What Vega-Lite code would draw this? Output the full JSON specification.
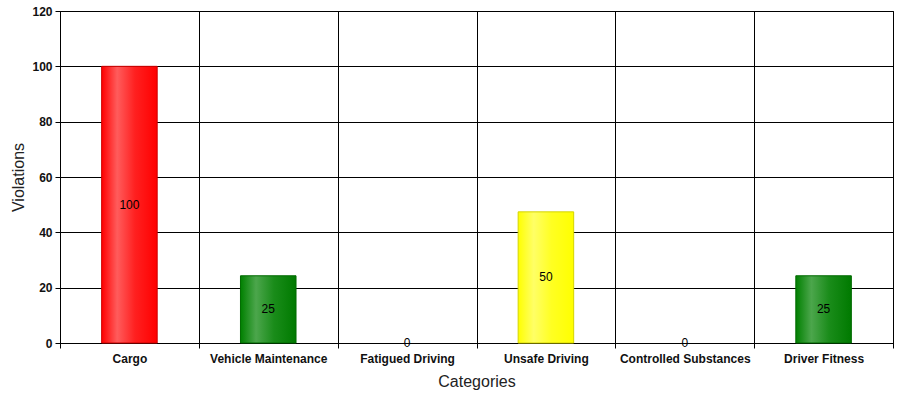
{
  "$schema": "https://vega.github.io/schema/vega-lite/v6.json",
  "width": 833,
  "height": 332,
  "autosize": {"type": "none"},
  "padding": {"left": 60, "top": 11, "right": 12, "bottom": 55},
  "background": "white",
  "config": {
    "font": "Liberation Sans",
    "view": {"stroke": "#000", "strokeWidth": 1},
    "axis": {"domainColor": "#000", "tickColor": "#000", "gridColor": "#000", "gridOpacity": 1, "gridWidth": 1, "labelColor": "#111", "titleColor": "#222", "labelFont": "Liberation Sans", "titleFont": "Liberation Sans"}
  },
  "data": {
    "values": [
      {"category": "Cargo", "value": 100, "label": "100"},
      {"category": "Vehicle Maintenance", "value": 24.3, "label": "25"},
      {"category": "Fatigued Driving", "value": 0, "label": "0"},
      {"category": "Unsafe Driving", "value": 47.4, "label": "50"},
      {"category": "Controlled Substances", "value": 0, "label": "0"},
      {"category": "Driver Fitness", "value": 24.3, "label": "25"}
    ]
  },
  "encoding": {
    "x": {
      "field": "category",
      "type": "nominal",
      "sort": null,
      "scale": {"domain": ["Cargo", "Vehicle Maintenance", "Fatigued Driving", "Unsafe Driving", "Controlled Substances", "Driver Fitness"], "paddingInner": 0, "paddingOuter": 0},
      "axis": {"title": "Categories", "titleFontSize": 16, "titleFontWeight": "normal", "titlePadding": 9, "labelAngle": 0, "labelFontSize": 12, "labelFontWeight": "bold", "labelPadding": 5, "tickBand": "extent", "grid": true, "tickSize": 5}
    }
  },
  "layer": [
    {
      "transform": [{"filter": "datum.category === 'Cargo'"}],
      "mark": {"type": "bar", "width": {"band": 0.4}, "stroke": "#cc0000", "strokeWidth": 1, "color": {"gradient": "linear", "x1": 0, "x2": 1, "y1": 0, "y2": 0, "stops": [{"offset": 0, "color": "#ff0000"}, {"offset": 0.28, "color": "#ff5c5c"}, {"offset": 0.6, "color": "#ff2020"}, {"offset": 1, "color": "#ff0000"}]}},
      "encoding": {
        "y": {"field": "value", "type": "quantitative", "scale": {"domain": [0, 120], "nice": false}, "axis": {"title": "Violations", "titleFontSize": 16, "titleFontWeight": "normal", "titlePadding": 5, "labelFontSize": 12, "labelFontWeight": "bold", "labelPadding": 3, "values": [0,5,10,15,20,25,30,35,40,45,50,55,60,65,70,75,80,85,90,95,100,105,110,115,120], "labelExpr": "datum.value % 20 === 0 ? datum.label : ''", "labelOverlap": false, "grid": true, "gridOpacity": {"condition": {"test": "datum.value % 20 === 0", "value": 1}, "value": 0}, "tickSize": {"condition": {"test": "datum.value % 20 === 0", "value": 5}, "value": 3}}}
      }
    },
    {
      "transform": [{"filter": "datum.category === 'Vehicle Maintenance' || datum.category === 'Driver Fitness'"}],
      "mark": {"type": "bar", "width": {"band": 0.4}, "stroke": "#006a00", "strokeWidth": 1, "color": {"gradient": "linear", "x1": 0, "x2": 1, "y1": 0, "y2": 0, "stops": [{"offset": 0, "color": "#008000"}, {"offset": 0.28, "color": "#4ca64c"}, {"offset": 0.6, "color": "#1a8c1a"}, {"offset": 1, "color": "#007a00"}]}},
      "encoding": {"y": {"field": "value", "type": "quantitative"}}
    },
    {
      "transform": [{"filter": "datum.category === 'Unsafe Driving'"}],
      "mark": {"type": "bar", "width": {"band": 0.4}, "stroke": "#d4d400", "strokeWidth": 1, "color": {"gradient": "linear", "x1": 0, "x2": 1, "y1": 0, "y2": 0, "stops": [{"offset": 0, "color": "#ffff00"}, {"offset": 0.28, "color": "#ffff66"}, {"offset": 0.6, "color": "#ffff22"}, {"offset": 1, "color": "#ffff00"}]}},
      "encoding": {"y": {"field": "value", "type": "quantitative"}}
    },
    {
      "transform": [{"calculate": "datum.value / 2", "as": "mid"}],
      "mark": {"type": "text", "fontSize": 12, "color": "#000", "font": "Liberation Sans", "baseline": "middle"},
      "encoding": {
        "y": {"field": "mid", "type": "quantitative"},
        "text": {"field": "label"}
      }
    }
  ]
}
